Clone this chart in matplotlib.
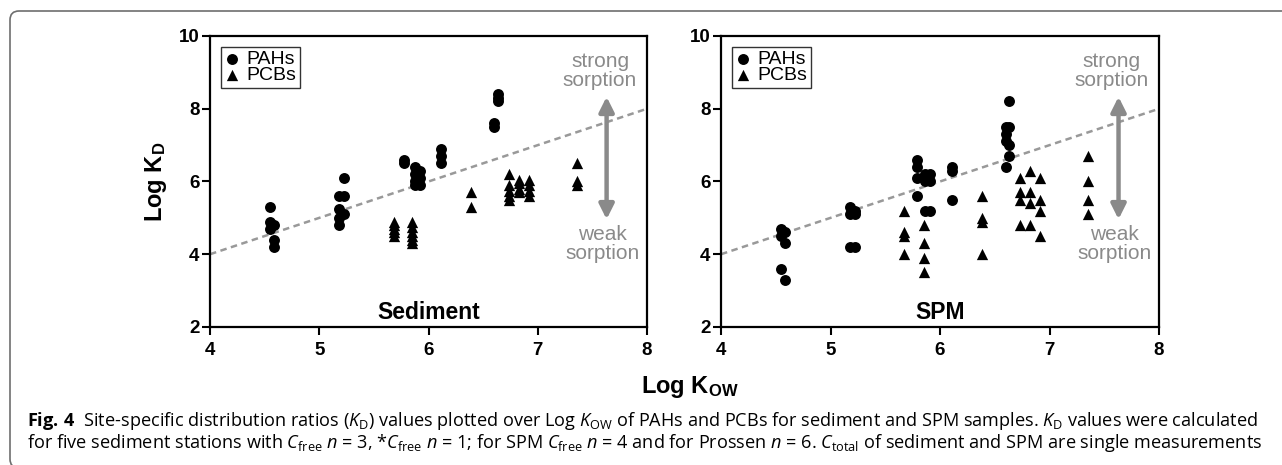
import matplotlib
matplotlib.use("Agg")
import matplotlib.pyplot as plt
from matplotlib.patches import FancyBboxPatch
from matplotlib.transforms import IdentityTransform

plt.rcParams['font.family'] = ['Liberation Sans', 'DejaVu Sans']
plt.rcParams['mathtext.fontset'] = 'custom'
plt.rcParams['mathtext.rm'] = 'Open Sans'
plt.rcParams['mathtext.it'] = 'Open Sans:italic'
plt.rcParams['mathtext.bf'] = 'Open Sans:bold'

# Sediment: log Kow vs log Kd
sed_pah_x = [4.55, 4.55, 4.55, 4.59, 4.59, 4.59,
             5.18, 5.18, 5.18, 5.18, 5.23, 5.23, 5.23,
             5.78, 5.78, 5.88, 5.88, 5.88, 5.88, 5.92, 5.92, 5.92,
             6.11, 6.11, 6.11,
             6.60, 6.60, 6.64, 6.64, 6.64]
sed_pah_y = [5.3, 4.9, 4.7, 4.8, 4.4, 4.2,
             5.6, 5.25, 5.0, 4.8, 6.1, 5.6, 5.1,
             6.6, 6.5, 6.4, 6.2, 6.0, 5.9, 6.3, 6.1, 5.9,
             6.9, 6.7, 6.5,
             7.6, 7.5, 8.4, 8.3, 8.2]
sed_pcb_x = [5.68, 5.68, 5.68, 5.68, 5.68,
             5.85, 5.85, 5.85, 5.85, 5.85, 5.85,
             6.39, 6.39,
             6.74, 6.74, 6.74, 6.74, 6.74,
             6.83, 6.83, 6.83, 6.83,
             6.92, 6.92, 6.92, 6.92,
             7.36, 7.36, 7.36]
sed_pcb_y = [4.9, 4.8, 4.7, 4.6, 4.5,
             4.9, 4.75, 4.6, 4.5, 4.4, 4.3,
             5.7, 5.3,
             6.2, 5.9, 5.75, 5.6, 5.5,
             6.05, 5.95, 5.8, 5.7,
             6.05, 5.9, 5.75, 5.6,
             6.5, 6.0, 5.9]

# SPM: log Kow vs log Kd
spm_pah_x = [4.55, 4.55, 4.55, 4.58, 4.58, 4.58,
             5.18, 5.18, 5.18, 5.22, 5.22, 5.22,
             5.79, 5.79, 5.79, 5.79,
             5.86, 5.86, 5.86, 5.91, 5.91, 5.91,
             6.11, 6.11, 6.11,
             6.60, 6.60, 6.60, 6.60, 6.63, 6.63, 6.63, 6.63]
spm_pah_y = [4.7, 4.5, 3.6, 4.6, 4.3, 3.3,
             5.3, 5.1, 4.2, 5.2, 5.1, 4.2,
             6.6, 6.4, 6.1, 5.6,
             6.2, 6.0, 5.2, 6.2, 6.0, 5.2,
             6.4, 6.3, 5.5,
             7.5, 7.3, 7.1, 6.4, 8.2, 7.5, 7.0, 6.7]
spm_pcb_x = [5.67, 5.67, 5.67, 5.67,
             5.85, 5.85, 5.85, 5.85,
             6.38, 6.38, 6.38, 6.38,
             6.73, 6.73, 6.73, 6.73,
             6.82, 6.82, 6.82, 6.82,
             6.91, 6.91, 6.91, 6.91,
             7.35, 7.35, 7.35, 7.35]
spm_pcb_y = [5.2, 4.6, 4.5, 4.0,
             4.8, 4.3, 3.9, 3.5,
             5.6, 5.0, 4.9, 4.0,
             6.1, 5.7, 5.5, 4.8,
             6.3, 5.7, 5.4, 4.8,
             6.1, 5.5, 5.2, 4.5,
             6.7, 6.0, 5.5, 5.1]

# 1:1 reference line
ref_x = [4, 8]
ref_y = [4, 8]

x_ticks = [4, 5, 6, 7, 8]
y_ticks = [2, 4, 6, 8, 10]

panels = [('Sediment', sed_pah_x, sed_pah_y, sed_pcb_x, sed_pcb_y),
          ('SPM', spm_pah_x, spm_pah_y, spm_pcb_x, spm_pcb_y)]

fig = plt.figure(figsize=(12.82, 4.65), dpi=100)

# frame around the figure (runs off the right and bottom edges)
frame = FancyBboxPatch((10, -3), 1500, 457, boxstyle='round,pad=0,rounding_size=9',
                       transform=IdentityTransform(), fill=False,
                       edgecolor='#6e6e6e', linewidth=1.2)
fig.add_artist(frame)

ax_pos = [[0.1638, 0.2968, 0.3409, 0.6258], [0.5624, 0.2968, 0.3417, 0.6258]]

for pos, (name, px, py, cx, cy) in zip(ax_pos, panels):
    ax = fig.add_axes(pos)
    ax.plot(ref_x, ref_y, color='#999999', lw=1.8, linestyle=(0, (2.6, 1.8)), zorder=1)
    ax.scatter(px, py, marker='o', s=62, color='black', linewidths=0, label='PAHs', zorder=3)
    ax.scatter(cx, cy, marker='^', s=66, color='black', linewidths=0, label='PCBs', zorder=3)

    ax.annotate('', xy=(7.63, 8.33), xytext=(7.63, 4.96),
                arrowprops=dict(arrowstyle='<|-|>', color='#8a8a8a', lw=3.2,
                                mutation_scale=22, shrinkA=0, shrinkB=0))
    ax.text(7.57, 9.05, 'strong\nsorption', color='#8a8a8a', fontsize=15,
            ha='center', va='center', linespacing=1.0)
    ax.text(7.59, 4.27, 'weak\nsorption', color='#8a8a8a', fontsize=15,
            ha='center', va='center', linespacing=1.0)
    ax.text(6, 2.4, name, fontsize=16.5, fontweight='bold', ha='center', va='center')

    ax.set_xlim(4, 8)
    ax.set_ylim(2, 10)
    ax.set_xticks(x_ticks)
    ax.set_yticks(y_ticks)
    ax.tick_params(direction='out', length=5.5, width=1.5, labelsize=13.5, pad=2)
    ax.tick_params(axis='x', pad=5)
    for lab in ax.get_xticklabels() + ax.get_yticklabels():
        lab.set_fontweight('bold')
    for sp in ax.spines.values():
        sp.set_linewidth(1.6)

    leg = ax.legend(loc='upper left', fontsize=14, frameon=True, fancybox=False,
                    edgecolor='black', handletextpad=0.3, handlelength=0.8,
                    labelspacing=-0.1, borderpad=0.2, borderaxespad=0.55,
                    scatterpoints=1)
    leg.get_frame().set_linewidth(1.0)

    if name == 'Sediment':
        ax.set_ylabel(r'Log K$_\mathregular{D}$', fontsize=17, fontweight='bold', labelpad=7)

fig.text(0.538, 1 - 387 / 465, r'Log K$_\mathregular{OW}$', fontsize=17, fontweight='bold',
         ha='center', va='center')

cap1 = (r'$\mathbf{Fig.\,4}$  Site-specific distribution ratios ($\mathit{K}_\mathregular{D}$) '
        r'values plotted over Log $\mathit{K}_\mathregular{OW}$ of PAHs and PCBs for sediment and '
        r'SPM samples. $\mathit{K}_\mathregular{D}$ values were calculated')
cap2 = (r'for five sediment stations with $\mathit{C}_\mathregular{free}$ $\mathit{n}$ = 3, '
        r'*$\mathit{C}_\mathregular{free}$ $\mathit{n}$ = 1; for SPM $\mathit{C}_\mathregular{free}$ '
        r'$\mathit{n}$ = 4 and for Prossen $\mathit{n}$ = 6. $\mathit{C}_\mathregular{total}$ of '
        r'sediment and SPM are single measurements')
fig.text(27 / 1282, 1 - 426 / 465, cap1, fontsize=13.1, family='Open Sans', va='baseline', ha='left')
fig.text(27 / 1282, 1 - 448 / 465, cap2, fontsize=13.1, family='Open Sans', va='baseline', ha='left')

fig.savefig('out.png', dpi=100)
